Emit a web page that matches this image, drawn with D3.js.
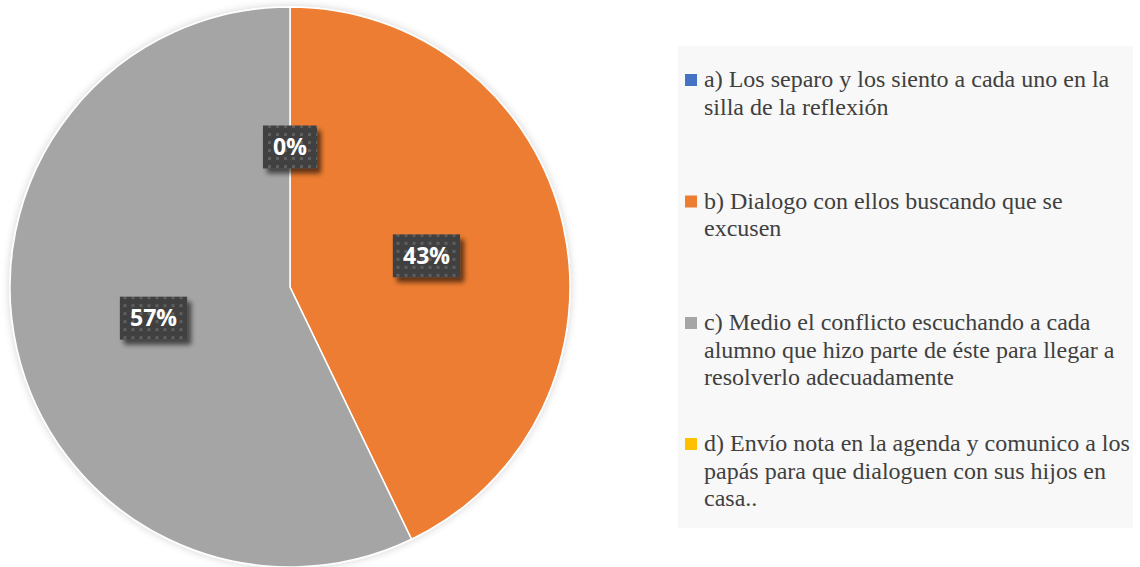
<!DOCTYPE html>
<html>
<head>
<meta charset="utf-8">
<script src="https://cdn.jsdelivr.net/npm/d3@7"></script>
<style>
  html, body { margin: 0; padding: 0; background: #fff; }
  svg { display: block; }
</style>
</head>
<body>
<div id="chart"></div>
<script>
// answers (categories) and number of responses
const categories = [
    "a) Los separo y los siento a cada uno en la silla de la reflexión",
    "b) Dialogo con ellos buscando que se excusen",
    "c) Medio el conflicto escuchando a cada alumno que hizo parte de éste para llegar a resolverlo adecuadamente",
    "d) Envío nota en la agenda y comunico a los papás para que dialoguen con sus hijos en casa.."
];
const counts = [0, 3, 4, 0];
const colors = ["#4472C4", "#ED7D31", "#A5A5A5", "#FFC000"];
// legend text already broken the way the picture shows it
const legendLines = [
    ["a) Los separo y los siento a cada uno en la", "silla de la reflexión"],
    ["b) Dialogo con ellos buscando que se", "excusen"],
    ["c) Medio el conflicto escuchando a cada", "alumno que hizo parte de éste para llegar a", "resolverlo adecuadamente"],
    ["d) Envío nota en la agenda y comunico a los", "papás para que dialoguen con sus hijos en", "casa.."]
];

const width = 1140, height = 567;
const cx = 290, cy = 287, radius = 280;

const svg = d3.select("#chart").append("svg")
    .attr("width", width)
    .attr("height", height);

const defs = svg.append("defs");

// soft glow around the pie
const glow = defs.append("filter").attr("id", "pieGlow")
    .attr("x", "-10%").attr("y", "-10%").attr("width", "120%").attr("height", "120%");
glow.append("feGaussianBlur").attr("in", "SourceAlpha").attr("stdDeviation", 4);
glow.append("feComponentTransfer").append("feFuncA").attr("type", "linear").attr("slope", 0.18);
const gm = glow.append("feMerge");
gm.append("feMergeNode");
gm.append("feMergeNode").attr("in", "SourceGraphic");

// label box shadow
const shadow = defs.append("filter").attr("id", "boxShadow")
    .attr("x", "-30%").attr("y", "-30%").attr("width", "160%").attr("height", "160%");
shadow.append("feGaussianBlur").attr("in", "SourceAlpha").attr("stdDeviation", 2.5);
shadow.append("feOffset").attr("dx", 4).attr("dy", 5).attr("result", "off");
shadow.append("feComponentTransfer").append("feFuncA").attr("type", "linear").attr("slope", 0.6);
const sm = shadow.append("feMerge");
sm.append("feMergeNode");
sm.append("feMergeNode").attr("in", "SourceGraphic");

// dotted texture for the label boxes
const pat = defs.append("pattern").attr("id", "dots")
    .attr("patternUnits", "userSpaceOnUse")
    .attr("width", 8).attr("height", 8);
pat.append("rect").attr("width", 8).attr("height", 8).attr("fill", "#414141");
pat.append("rect").attr("x", 2).attr("y", 2).attr("width", 3).attr("height", 3).attr("fill", "#5e5e5e");

const pie = d3.pie().sort(null).value(d => d)(counts);
const total = d3.sum(counts);
const arc = d3.arc().innerRadius(0).outerRadius(radius);
const labelArc = d3.arc().innerRadius(radius * 0.5).outerRadius(radius * 0.5);

const g = svg.append("g").attr("transform", `translate(${cx},${cy})`);

g.append("g").attr("filter", "url(#pieGlow)")
    .selectAll("path")
    .data(pie)
    .enter().append("path")
    .attr("d", arc)
    .attr("fill", (d, i) => colors[i])
    .attr("stroke", "#fff")
    .attr("stroke-width", d => d.value > 0 ? 1.5 : 0);

// data labels (skip ones sitting exactly on top of an earlier one)
const seen = new Set();
const labels = pie.filter(d => {
    const c = labelArc.centroid(d);
    const key = Math.round(c[0]) + "," + Math.round(c[1]);
    if (seen.has(key)) return false;
    seen.add(key);
    return true;
});

const lab = g.append("g")
    .selectAll("g")
    .data(labels)
    .enter().append("g")
    .attr("transform", d => `translate(${labelArc.centroid(d)})`);

lab.append("text")
    .attr("text-anchor", "middle")
    .attr("dy", "0.36em")
    .style("font-family", "'Open Sans', sans-serif")
    .attr("font-weight", "bold")
    .attr("font-size", 23)
    .attr("fill", "#fff")
    .text(d => Math.round(d.value / total * 100) + "%");

lab.each(function () {
    const grp = d3.select(this);
    const bb = grp.select("text").node().getBBox();
    const w = bb.width + 20, h = 43;
    grp.insert("rect", "text")
        .attr("x", -w / 2).attr("y", -h / 2)
        .attr("width", w).attr("height", h)
        .attr("fill", "url(#dots)")
        .attr("filter", "url(#boxShadow)");
});

// legend
const legend = svg.append("g");
legend.append("rect")
    .attr("x", 678).attr("y", 46)
    .attr("width", 455).attr("height", 482)
    .attr("fill", "#f8f8f8");

const itemTop = [80, 201.5, 323, 444];
const lineH = 27.6;

const item = legend.selectAll("g.item")
    .data(categories)
    .enter().append("g")
    .attr("class", "item")
    .attr("transform", (d, i) => `translate(685,${itemTop[i]})`);

item.append("rect")
    .attr("x", 0).attr("y", -6)
    .attr("width", 12).attr("height", 12)
    .attr("fill", (d, i) => colors[i]);

item.append("text")
    .style("font-family", "'Liberation Serif', 'Times New Roman', serif")
    .attr("font-size", 24)
    .attr("fill", "#404040")
    .selectAll("tspan")
    .data((d, i) => legendLines[i])
    .enter().append("tspan")
    .attr("x", 19)
    .attr("y", (d, j) => j * lineH)
    .attr("dy", "0.3em")
    .text(d => d);
</script>
</body>
</html>
